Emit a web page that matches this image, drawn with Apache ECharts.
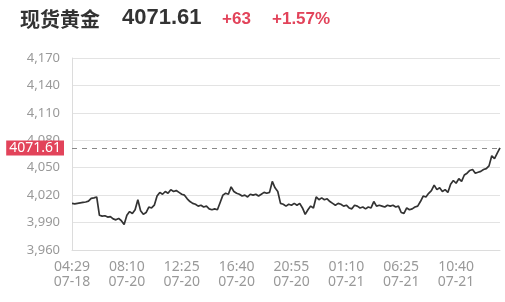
<!DOCTYPE html>
<html>
<head>
<meta charset="utf-8">
<script src="https://cdn.jsdelivr.net/npm/echarts@6/dist/echarts.min.js"></script>
<style>html,body{margin:0;padding:0;background:#fff;}#c{width:505px;height:302px;}</style>
</head>
<body>
<div id="c"></div>
<script>
const titleName = '现货黄金';
const lastPrice = 4071.61;
const changeAbs = '+63';
const changePct = '+1.57%';
const tickLabels = ['04:29\n07-18','08:10\n07-20','12:25\n07-20','16:40\n07-20','20:55\n07-20','01:10\n07-21','06:25\n07-21','10:40\n07-21'];
const pointsPerTick = 20;
const yTicks = {min: 3960, max: 4170, interval: 30};
const prices = [
4011,4010.5,4011,4011.5,4012,4012.5,4013.5,4016.5,4017,4018,
3998,3997,3997.5,3996,3996.5,3994,3993,3994.5,3992,3988,
3998,4002,4000,4004,4015,4003,3999,4001,4007,4006,
4009,4019,4023,4021,4024,4022,4026,4024,4025,4023,
4021,4020,4016,4013,4011,4010,4008,4009,4007,4008,
4005,4004,4005,4004,4012,4020,4022,4021,4029,4024,
4022,4021,4019,4020,4018,4021,4020,4021,4019,4021,
4023,4022,4023,4035,4028,4024,4011,4010,4008,4010,
4009,4011,4009,4011,4006,3999,4004,4008,4006,4018,
4015,4017,4015,4016,4013,4011,4009,4011,4010,4008,
4009,4006,4005,4009,4008,4006,4007,4005,4007,4006,
4013,4008,4009,4008,4007,4009,4008,4009,4007,4008,
4001,4000,4006,4004,4005,4007,4008,4013,4019,4018,
4022,4025,4031,4026,4028,4024,4026,4023,4032,4036,
4033,4038,4035,4042,4044,4047,4048,4044,4045,4046,
4048,4049,4052,4063,4060,4066,4071.61
];
const categories = prices.map((_, i) => String(i));

const red = '#e2435a';
const chart = echarts.init(document.getElementById('c'));
chart.setOption({
  animation: false,
  backgroundColor: '#fff',
  graphic: [
    {type:'text', left:20, top:9, style:{text:titleName, font:'bold 20px "Noto Sans CJK SC"', fill:'#333'}},
    {type:'text', left:122, top:7, style:{text:lastPrice.toFixed(2), font:'bold 22px "Liberation Sans"', fill:'#333'}},
    {type:'text', left:222, top:11, style:{text:changeAbs, font:'bold 17px "Liberation Sans"', fill:red}},
    {type:'text', left:272, top:11, style:{text:changePct, font:'bold 17px "Liberation Sans"', fill:red}}
  ],
  grid: {left:72, right:5, top:58, bottom:52, containLabel:false},
  xAxis: {
    type:'category', data: categories, boundaryGap:false,
    axisLine:{show:true, lineStyle:{color:'#dcdcdc'}},
    axisTick:{show:false},
    axisLabel:{interval: pointsPerTick-1, margin:10, color:'#999', fontSize:14, lineHeight:15, fontFamily:'Noto Sans',
      formatter:(v, idx) => tickLabels[Math.round(Number(v)/pointsPerTick)] || ''},
    splitLine:{show:false}
  },
  yAxis: {
    type:'value', min:yTicks.min, max:yTicks.max, interval:yTicks.interval,
    axisLine:{show:true, lineStyle:{color:'#dcdcdc'}},
    axisTick:{show:false},
    axisLabel:{margin:12, color:'#999', fontSize:13, fontFamily:'Noto Sans',
      formatter:v => v.toLocaleString('en-US')},
    splitLine:{show:true, lineStyle:{color:'#e3e3e3'}}
  },
  series: [{
    type:'line', data: prices, symbol:'none', smooth:false,
    lineStyle:{color:'#333', width:1.7},
    markLine:{
      silent:true, symbol:'none',
      lineStyle:{type:[5,5], color:'#888', width:1},
      label:{position:'start', distance:8, formatter:lastPrice.toFixed(2), backgroundColor:red, color:'#fff',
        padding:[1,3,0,3], fontSize:14, lineHeight:14, fontFamily:'Noto Sans'},
      data:[{yAxis:lastPrice}]
    }
  }]
});
</script>
</body>
</html>
